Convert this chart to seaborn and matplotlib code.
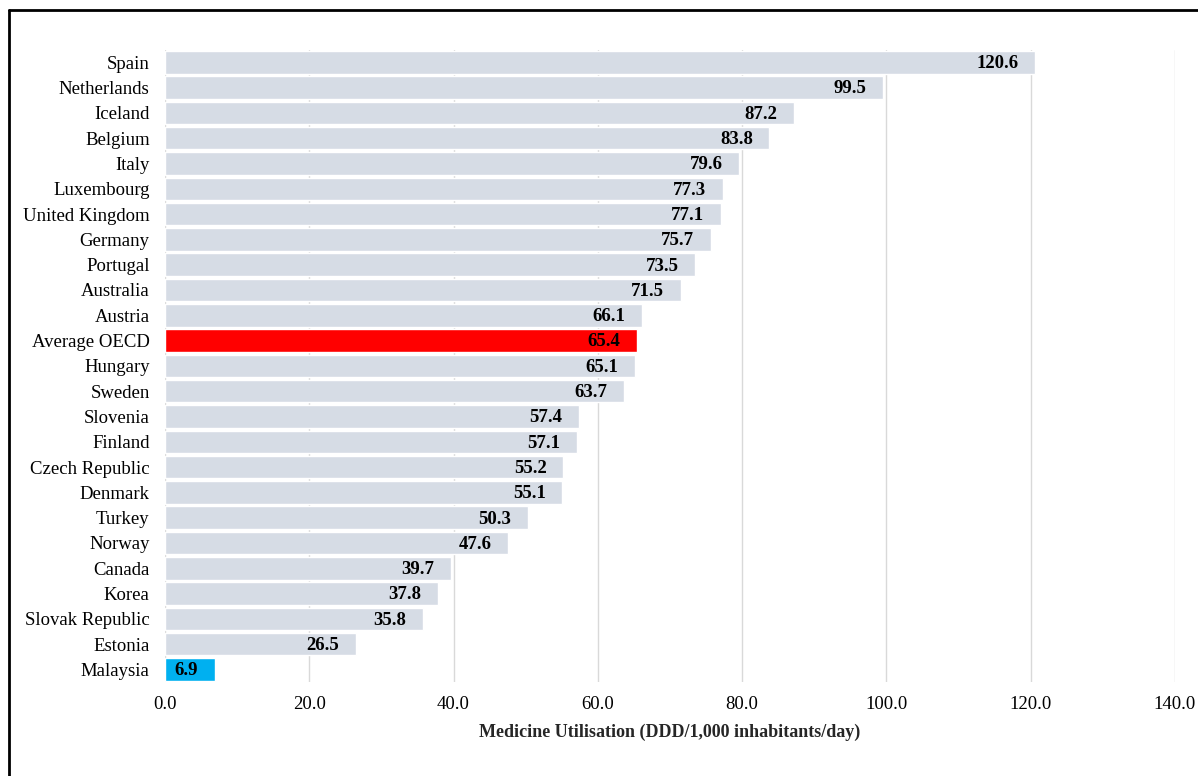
import seaborn as sns
import matplotlib.pyplot as plt
from matplotlib.lines import Line2D
import pandas as pd

# Data
countries = ['Spain', 'Netherlands', 'Iceland', 'Belgium', 'Italy', 'Luxembourg',
             'United Kingdom', 'Germany', 'Portugal', 'Australia', 'Austria',
             'Average OECD', 'Hungary', 'Sweden', 'Slovenia', 'Finland',
             'Czech Republic', 'Denmark', 'Turkey', 'Norway', 'Canada', 'Korea',
             'Slovak Republic', 'Estonia', 'Malaysia']
values = [120.6, 99.5, 87.2, 83.8, 79.6, 77.3, 77.1, 75.7, 73.5, 71.5, 66.1,
          65.4, 65.1, 63.7, 57.4, 57.1, 55.2, 55.1, 50.3, 47.6, 39.7, 37.8,
          35.8, 26.5, 6.9]
xticks = [0, 20, 40, 60, 80, 100, 120, 140]

df = pd.DataFrame({'Country': countries, 'Value': values})

# Colours: highlight the OECD average and Malaysia
palette = {c: '#d6dce5' for c in countries}
palette['Average OECD'] = '#ff0000'
palette['Malaysia'] = '#00b0f0'

sns.set_style('white')
plt.rcParams['font.family'] = ['Liberation Serif', 'DejaVu Serif']

fig = plt.figure(figsize=(11.98, 7.76), dpi=100)
ax = fig.add_axes([0.1377, 0.121, 0.843, 0.815])

sns.barplot(data=df, y='Country', x='Value', hue='Country', palette=palette,
            order=countries, orient='h', width=0.89, legend=False,
            saturation=1, ax=ax)

# Value labels inside bar ends
for i, v in enumerate(values):
    ax.annotate(f'{v:.1f}', xy=(v, i), xytext=(-12, -1), textcoords='offset points',
                ha='right', va='center', fontsize=13.5, fontweight='bold', color='black')

ax.set_xlim(0, 140)
ax.set_ylim(len(countries) - 0.5, -0.5)
ax.set_xticks(xticks)
ax.set_xticklabels([f'{t:.1f}' for t in xticks])
ax.tick_params(axis='both', length=0, labelsize=13.5, colors='black')
ax.tick_params(axis='y', pad=11)
ax.tick_params(axis='x', pad=10)
ax.xaxis.grid(True, color='#d9d9d9', linewidth=1)
ax.set_axisbelow(True)
for s in ax.spines.values():
    s.set_visible(False)

ax.set_ylabel('')
ax.set_xlabel('Medicine Utilisation (DDD/1,000 inhabitants/day)', fontsize=13,
              fontweight='bold', labelpad=8)

# Outer border: only the top and left edges fall inside the image
x0, y0 = 9 / 1198, 1 - 10 / 776
fig.add_artist(Line2D([x0, 1.05], [y0, y0], transform=fig.transFigure,
                      color='black', linewidth=2))
fig.add_artist(Line2D([x0, x0], [-0.05, y0], transform=fig.transFigure,
                      color='black', linewidth=2))

fig.savefig('out.png', dpi=100)
